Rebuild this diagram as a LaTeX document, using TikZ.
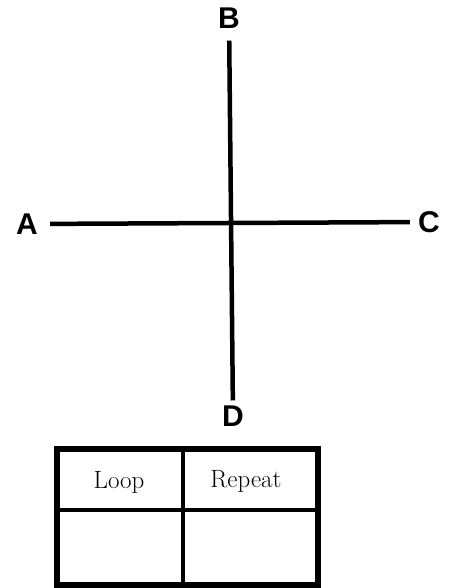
\documentclass[tikz,border=0pt]{standalone}
\usepackage{fontspec}
\newfontfamily\lblfont{Liberation Sans}
\usepackage{tikz}
\usetikzlibrary{calc,positioning}
\tikzset{
  pt/.style={font=\lblfont\bfseries\fontsize{30}{30}\selectfont,inner sep=0pt},
  axis/.style={line width=4.5pt,black},
  % table frame and its cell texts
  frame/.style={line width=5.5pt,black},
  grid/.style={line width=4.5pt,black},
  cell/.style={font=\fontsize{25}{25}\selectfont,inner sep=0pt},
}
\begin{document}
\begin{tikzpicture}[x=1pt,y=-1pt]
  \useasboundingbox (0,0) rectangle (457,588);
  \node[pt] (A) at (27,224){A};
  \node[pt] (C) at (429,222){C};
  \node[pt] (B) at (229,18){B};
  \node[pt] (D) at (233,416){D};
  \draw[axis,shorten <=12pt,shorten >=8pt] (A)--(C);
  \draw[axis,shorten <=12pt,shorten >=5pt] (B)--(D);
  \coordinate (tl) at (57,449); \coordinate (br) at (318,585);
  \draw[frame] (tl) rectangle (br);
  \draw[grid] (57,510)--(318,510);
  \draw[grid] (183,449)--(183,585);
  \node[cell] (loop) at (119,482){Loop};
  \node[cell] (rep) at (246,481){Repeat};
\end{tikzpicture}
\end{document}
